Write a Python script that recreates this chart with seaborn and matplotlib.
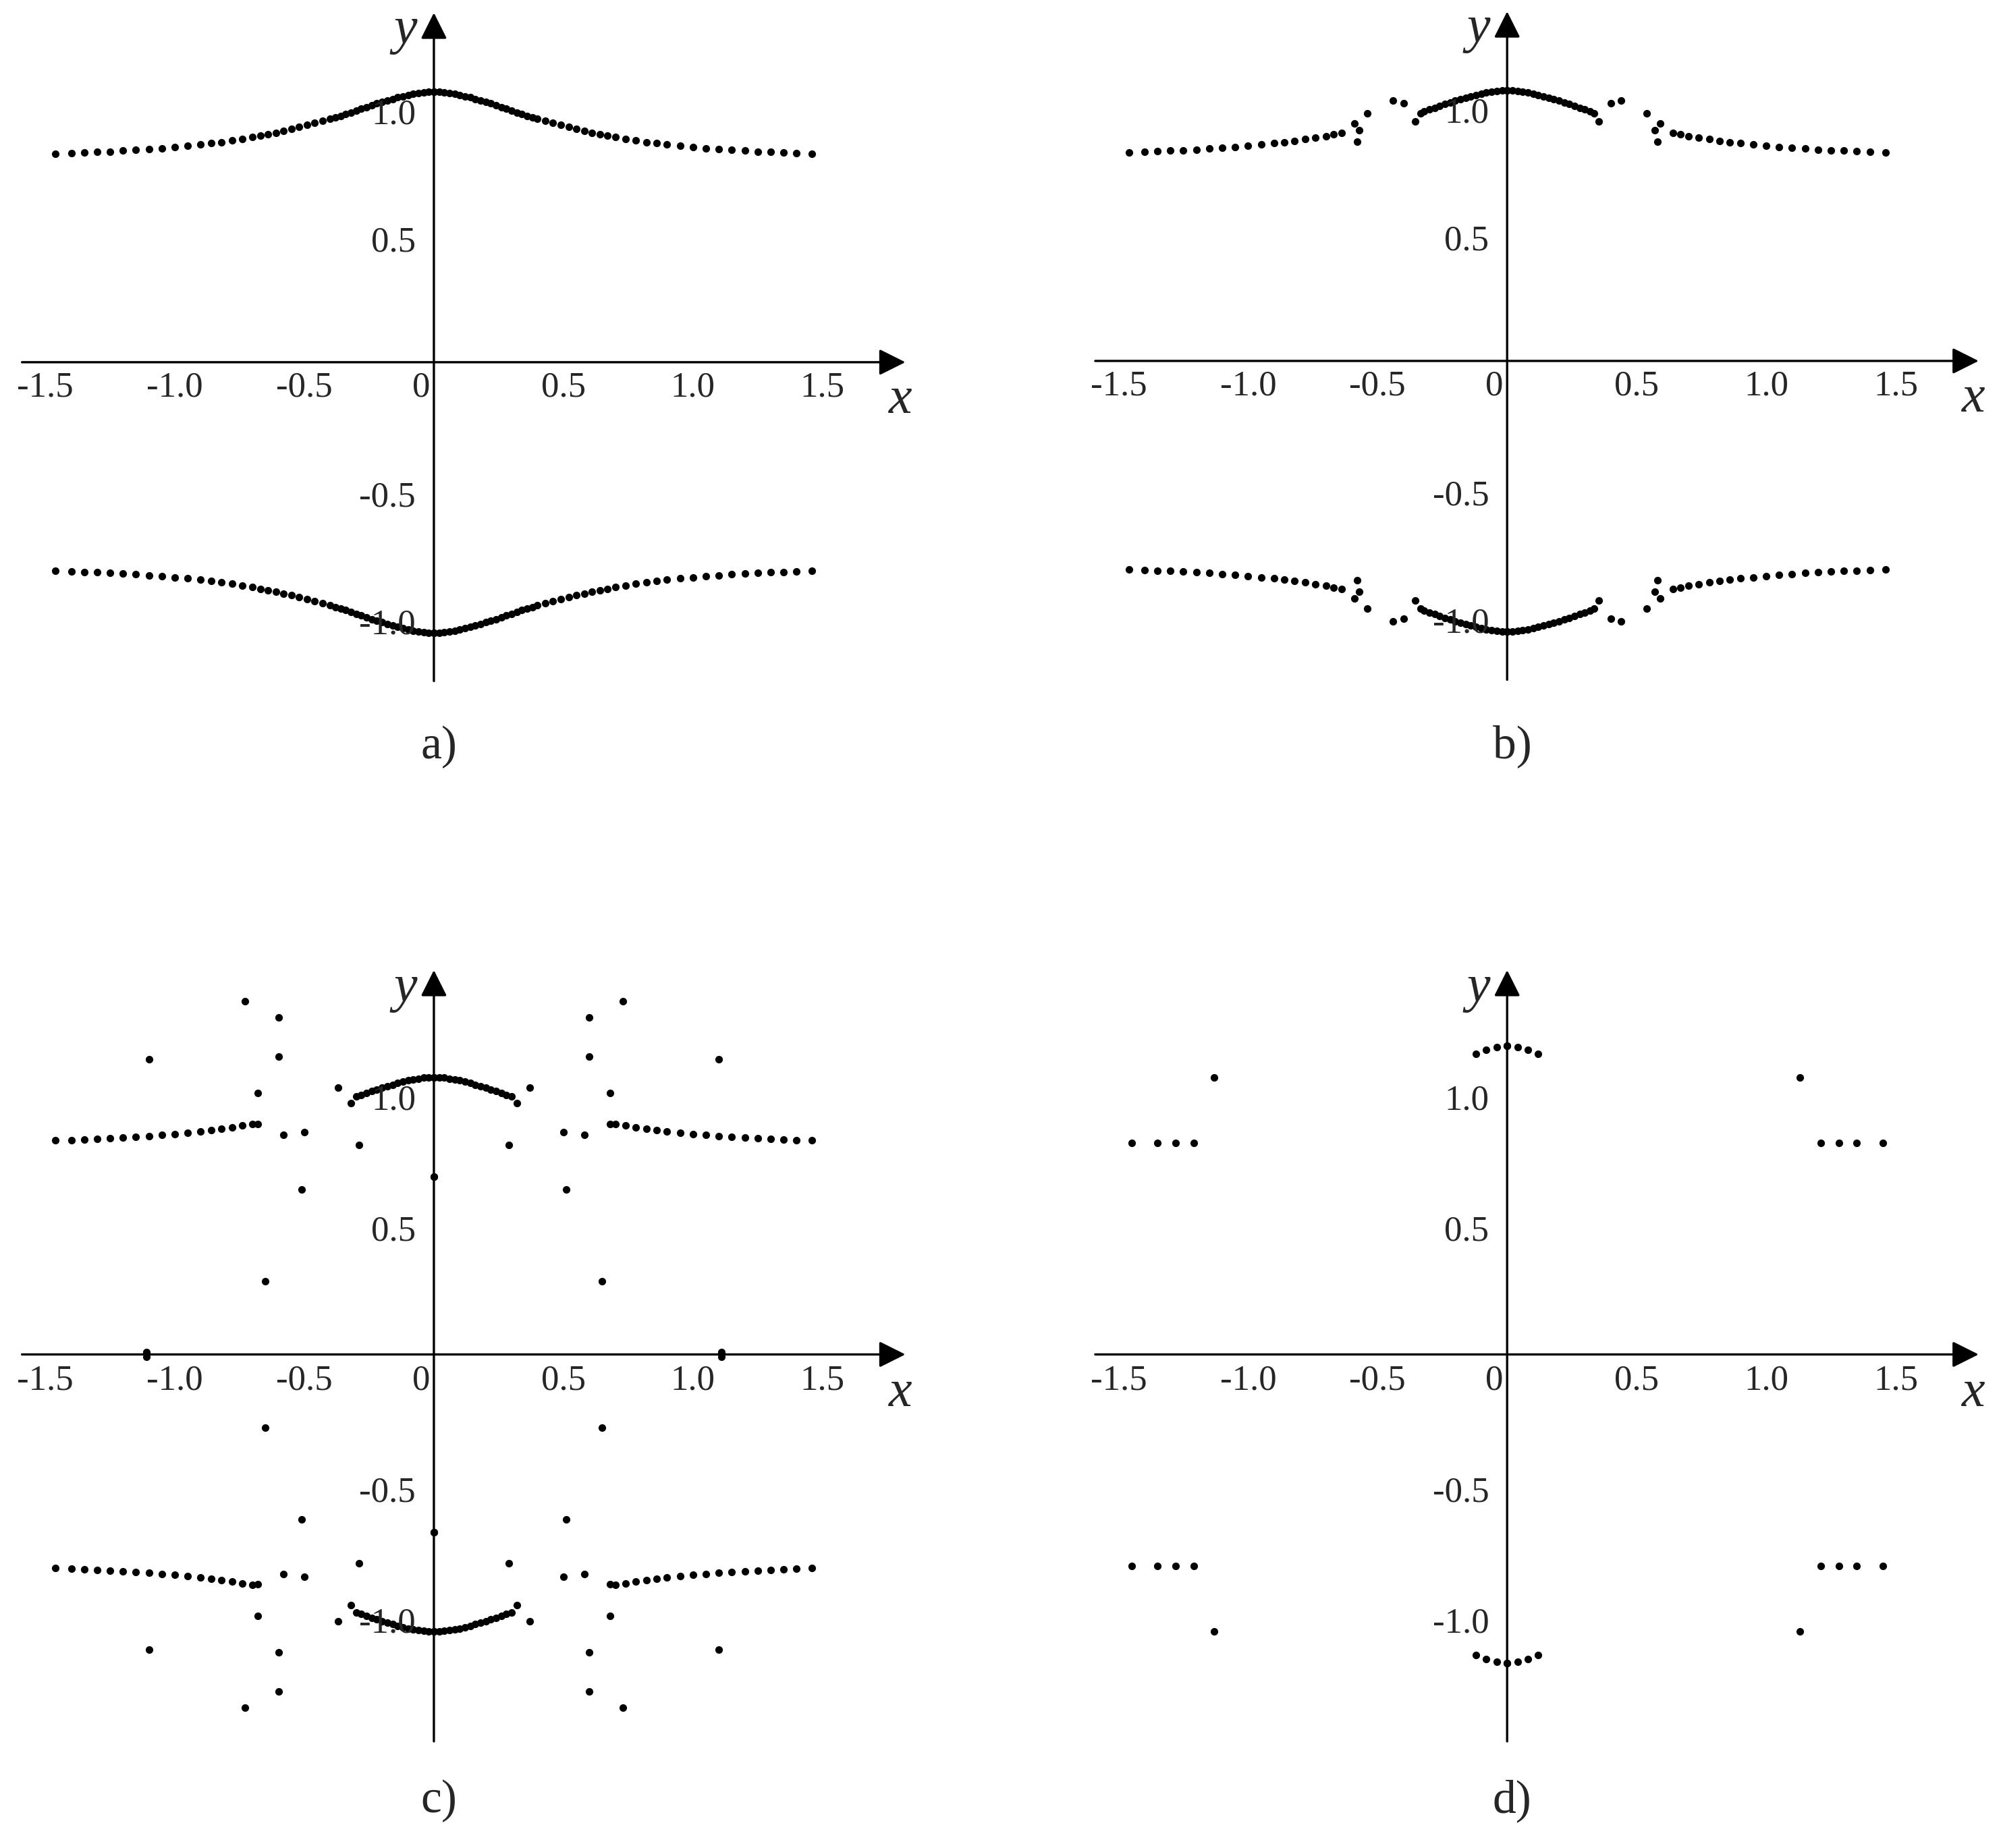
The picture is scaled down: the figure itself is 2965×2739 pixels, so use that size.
import numpy as np
import pandas as pd
import matplotlib
matplotlib.use("Agg")
import matplotlib.pyplot as plt
import seaborn as sns

sns.set_style("white")
plt.rcParams['font.family'] = ['Liberation Serif', 'DejaVu Serif']

# half curve (x >= 0)
half_x = [0, 0.02, 0.04, 0.06, 0.08, 0.10, 0.12, 0.14, 0.16, 0.18, 0.20, 0.22, 0.24, 0.26,
          0.28, 0.30, 0.32, 0.34, 0.36, 0.38, 0.40, 0.43, 0.46, 0.49, 0.52, 0.55, 0.58,
          0.61, 0.64, 0.67, 0.70, 0.74, 0.78, 0.82, 0.86, 0.90, 0.95, 1.00, 1.05, 1.10,
          1.15, 1.20, 1.25, 1.30, 1.35, 1.40, 1.46]
half_y = [1.06, 1.06, 1.058, 1.055, 1.052, 1.048, 1.043, 1.038, 1.032, 1.026, 1.02, 1.014,
          1.007, 1.0, 0.993, 0.986, 0.979, 0.972, 0.966, 0.960, 0.954, 0.946, 0.938, 0.930,
          0.922, 0.914, 0.907, 0.900, 0.894, 0.888, 0.882, 0.875, 0.869, 0.863, 0.858,
          0.853, 0.848, 0.843, 0.839, 0.835, 0.832, 0.829, 0.826, 0.824, 0.822, 0.820, 0.818]

# extra scattered points (x >= 0, upper half)
b_extra_x = [0.335, 0.355, 0.40, 0.44, 0.54, 0.57, 0.58, 0.59]
b_extra_y = [0.97, 0.94, 1.01, 1.02, 0.97, 0.905, 0.86, 0.93]
c_extra_x = [0.32, 0.37, 0.29, 0.50, 0.51, 0.58, 0.60, 0.60, 0.68, 0.68, 0.73, 0.65, 1.10, 1.11, 0.0]
c_extra_y = [0.96, 1.02, 0.80, 0.85, 0.63, 0.84, 1.29, 1.14, 1.00, 0.88, 1.35, 0.28, 1.13, 0.01, 0.68]
d_x = [0.0, 0.04, 0.08, 0.12, 1.13, 1.21, 1.28, 1.35, 1.45]
d_y = [1.18, 1.175, 1.165, 1.15, 1.06, 0.81, 0.81, 0.81, 0.81]

W, H = 1568, 1449


def full(xs, ys):
    xs, ys = np.array(xs), np.array(ys)
    X = np.concatenate([xs, -xs, xs, -xs])
    Y = np.concatenate([ys, ys, -ys, -ys])
    return pd.DataFrame({'x': X, 'y': Y})


def panel(fig, x0, y0, sx, sy, df, ytop, ybot):
    left = (x0 - 1.7 * sx) / W
    bottom = 1 - (y0 + 1.6 * sy) / H
    ax = fig.add_axes([left, bottom, 3.6 * sx / W, 3.2 * sy / H])
    ax.set_xlim(-1.7, 1.9)
    ax.set_ylim(-1.6, 1.6)
    ax.axis('off')
    sns.scatterplot(data=df, x='x', y='y', ax=ax, color='black', s=65, linewidth=0, clip_on=False)
    ax.annotate('', xy=(1.82, 0), xytext=(-1.59, 0),
                arrowprops=dict(arrowstyle='-|>', lw=2.4, mutation_scale=60, color='k',
                                shrinkA=0, shrinkB=0), annotation_clip=False)
    ax.annotate('', xy=(0, ytop), xytext=(0, ybot),
                arrowprops=dict(arrowstyle='-|>', lw=2.4, mutation_scale=60, color='k',
                                shrinkA=0, shrinkB=0), annotation_clip=False)
    for v, t in [(-1.5, '-1.5'), (-1.0, '-1.0'), (-0.5, '-0.5'), (0.5, '0.5'), (1.0, '1.0'), (1.5, '1.5')]:
        ax.text(v, -0.1, t, ha='center', va='center', fontsize=38)
    ax.text(-0.05, -0.1, '0', ha='center', va='center', fontsize=38)
    for v, t in [(1.0, '1.0'), (0.5, '0.5'), (-0.5, '-0.5'), (-1.0, '-1.0')]:
        ax.text(-0.07, v - 0.03, t, ha='right', va='center', fontsize=38)
    ax.text(1.8, -0.15, 'x', fontsize=56, style='italic', ha='center', va='center')
    ax.text(-0.11, ytop - 0.07, 'y', fontsize=56, style='italic', ha='center', va='center')
    return ax


fig = plt.figure(figsize=(29.65, 27.39), dpi=100)

df_a = full(half_x, half_y)
gap_b = [(x, y) for x, y in zip(half_x, half_y) if x <= 0.33 or x >= 0.62]
df_b = full([p[0] for p in gap_b] + b_extra_x, [p[1] for p in gap_b] + b_extra_y)
gap_c = [(x, y) for x, y in zip(half_x, half_y) if x <= 0.31 or x >= 0.68]
df_c = full([p[0] for p in gap_c] + c_extra_x, [p[1] for p in gap_c] + c_extra_y)
df_d = full(d_x, d_y)

for df, x0, y0, sy, top, bot, lab, off in [
        (df_a, 340, 284, 200, 1.37, -1.25, 'a)', 302),
        (df_b, 1181, 283, 200, 1.37, -1.25, 'b)', 302),
        (df_c, 340, 1062, 205, 1.47, -1.48, 'c)', 350),
        (df_d, 1181, 1062, 205, 1.47, -1.48, 'd)', 350)]:
    panel(fig, x0, y0, 203, sy, df, top, bot)
    fig.text((x0 + 4) / W, 1 - (y0 + off) / H, lab, ha='center', va='center', fontsize=50)

fig.savefig('out.png', dpi=100, facecolor='white')
